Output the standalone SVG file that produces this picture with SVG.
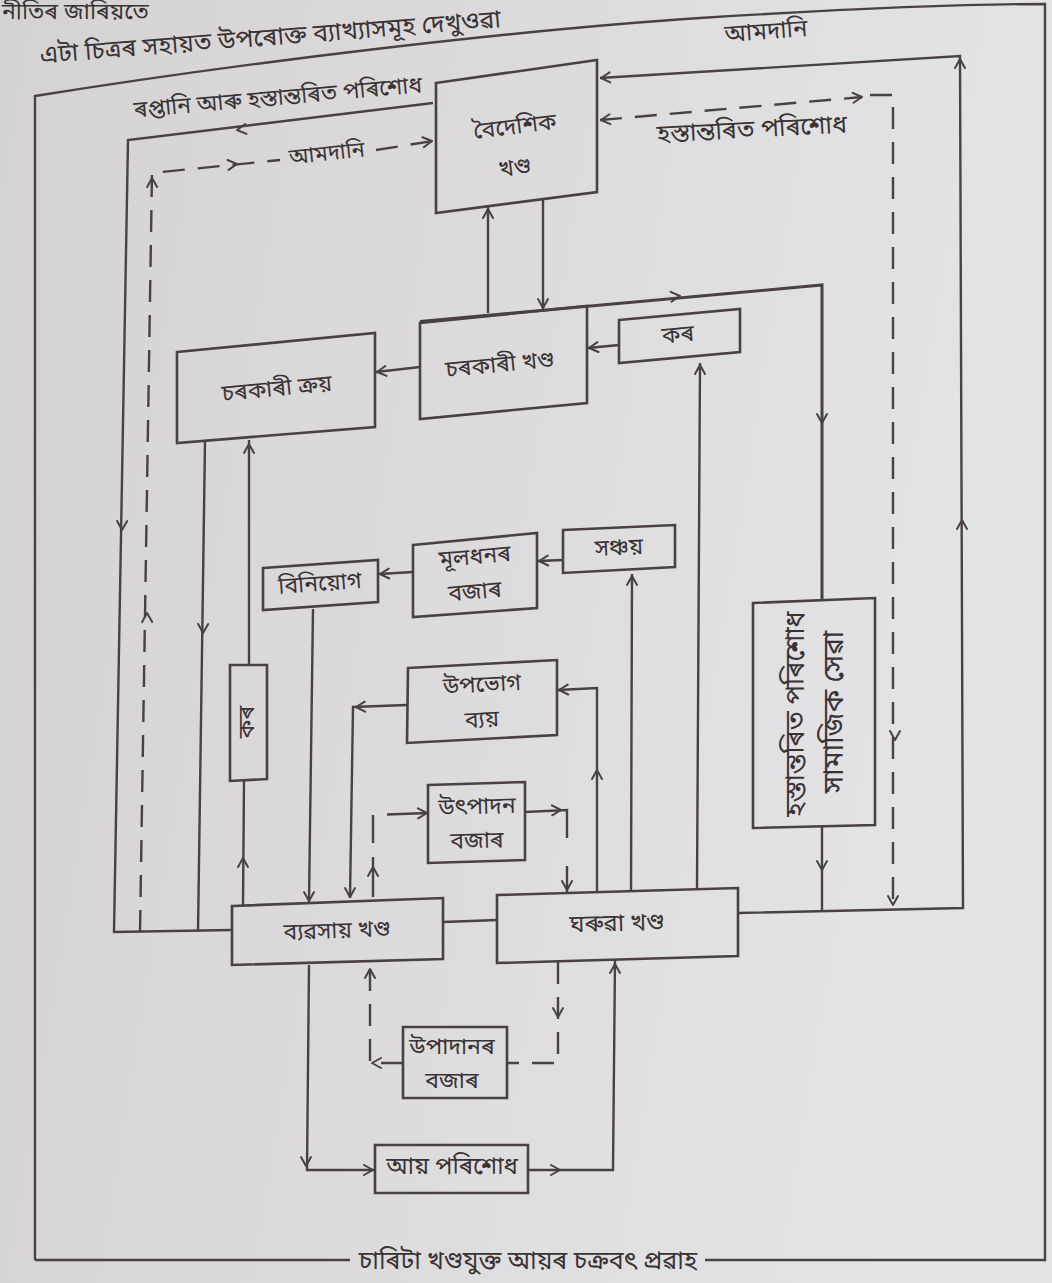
<svg xmlns="http://www.w3.org/2000/svg" xmlns:xlink="http://www.w3.org/1999/xlink" width="1052" height="1283" viewBox="0 0 1052 1283">
<defs>
<linearGradient id="bg" x1="0" y1="0" x2="1" y2="0.2">
<stop offset="0" stop-color="#d5d2d3"/>
<stop offset="1" stop-color="#e4e4e6"/>
</linearGradient>
<path id="ah" d="M-9,-5 L0,0 L-9,5" fill="none" stroke="#4a4142" stroke-width="2" stroke-linecap="round" stroke-linejoin="round"/>
</defs>
<style>
.bx{fill:none;stroke:#4a4142;stroke-width:2.6;stroke-linejoin:miter}
.ln{fill:none;stroke:#4a4142;stroke-width:2.4}
.dl{fill:none;stroke:#4a4142;stroke-width:2.4;stroke-dasharray:22 13}
.t{font-family:'Noto Sans Bengali','Noto Serif Bengali','Lohit Assamese','Lohit Bengali','FreeSans','Noto Sans',sans-serif;fill:#3a3334;text-anchor:middle;dominant-baseline:central;font-size:23px}
.lb{font-size:22px}
.cap{font-size:25px}
</style>
<rect width="1052" height="1283" fill="url(#bg)"/>

<g id="header">
<text class="t" x="2" y="13" style="text-anchor:start">নীতিৰ জাৰিয়তে</text>
<text class="t" x="40" y="57" style="text-anchor:start;font-size:25px" transform="rotate(-4.5 40 57)">এটা চিত্ৰৰ সহায়ত উপৰোক্ত ব্যাখ্যাসমূহ দেখুওৱা</text>
</g>

<g id="frame">
<path class="ln" d="M35,1260 L35,96 C260,60 520,30 700,18 C860,8 980,4 1045,4 L1045,1260 L705,1260 M350,1260 L35,1260"/>
<text class="t cap" x="528" y="1262">চাৰিটা খণ্ডযুক্ত আয়ৰ চক্ৰবৎ প্ৰৱাহ</text>
</g>

<g id="connectors">
<path class="ln" d="M433,103 L128,140 L114,932 L232,930"/>
<path class="dl" d="M140,932 L152,173 L280,160"/>
<path class="dl" d="M376,150 L433,141"/>
<text class="t lb" x="327" y="155" transform="rotate(-6 327 155)">আমদানি</text>
<text class="t lb" x="278" y="99" style="font-size:23px" transform="rotate(-5 278 99)">ৰপ্তানি আৰু হস্তান্তৰিত পৰিশোধ</text>
<path class="ln" d="M205,441 L198,932"/>
<path class="ln" d="M249,665 L249,440"/>
<path class="ln" d="M244,781 L243,906"/>
<path class="ln" d="M313,609 L309,902"/>
<path class="ln" d="M413,572 L379,574"/>
<path class="ln" d="M563,560 L538,561"/>
<path class="ln" d="M631,892 L632,574"/>
<path class="ln" d="M697,888 L700,363"/>
<path class="ln" d="M619,345 L588,348"/>
<path class="ln" d="M420,367 L376,372"/>
<path class="ln" d="M488,313 L488,207"/>
<path class="ln" d="M543,199 L543,310"/>
<path class="ln" d="M420,321.5 L822,285 L822,600" style="stroke-width:3"/>
<path class="ln" d="M822,826 L822,910"/>
<path class="ln" d="M738,913 L963,908 L960,56 L600,78"/>
<path class="dl" d="M600,120 L862,97"/>
<path class="dl" d="M870,95 L893,95 L893,908"/>
<text class="t lb" x="752" y="131" style="font-size:25px" transform="rotate(-3 752 131)">হস্তান্তৰিত পৰিশোধ</text>
<text class="t lb" x="766" y="33" style="font-size:24px" transform="rotate(-4 766 33)">আমদানি</text>
<path class="ln" d="M443,922 L497,920"/>
<path class="ln" d="M407,705 L353,707 L350,898"/>
<path class="ln" d="M597,892 L597,688 L558,690"/>
<path class="dl" d="M373,897 L373,815 L428,813" style="stroke-dasharray:40 14 28 14 60"/>
<path class="dl" d="M525,812 L567,810 L567,893" style="stroke-dasharray:70 28 40"/>
<path class="ln" d="M309,965 L307,1170 L375,1170"/>
<path class="ln" d="M528,1170 L613,1170 L615,960"/>
<path class="dl" d="M558,962 L558,1063 L507,1063"/>
<path class="dl" d="M403,1063 L370,1063 L370,967"/>
<g id="arrowheads">
<use xlink:href="#ah" transform="translate(237,130) rotate(173)"/>
<use xlink:href="#ah" transform="translate(122,530) rotate(91)"/>
<use xlink:href="#ah" transform="translate(147,613) rotate(-91)"/>
<use xlink:href="#ah" transform="translate(152,178) rotate(-91)"/>
<use xlink:href="#ah" transform="translate(237,164) rotate(-6)"/>
<use xlink:href="#ah" transform="translate(432,141) rotate(-8)"/>
<use xlink:href="#ah" transform="translate(203,633) rotate(91)"/>
<use xlink:href="#ah" transform="translate(249,444) rotate(-90)"/>
<use xlink:href="#ah" transform="translate(243,858) rotate(-90)"/>
<use xlink:href="#ah" transform="translate(309,901) rotate(90)"/>
<use xlink:href="#ah" transform="translate(380,574) rotate(177)"/>
<use xlink:href="#ah" transform="translate(539,561) rotate(177)"/>
<use xlink:href="#ah" transform="translate(632,576) rotate(-90)"/>
<use xlink:href="#ah" transform="translate(700,365) rotate(-90)"/>
<use xlink:href="#ah" transform="translate(589,348) rotate(174)"/>
<use xlink:href="#ah" transform="translate(377,372) rotate(173)"/>
<use xlink:href="#ah" transform="translate(488,209) rotate(-90)"/>
<use xlink:href="#ah" transform="translate(543,308) rotate(90)"/>
<use xlink:href="#ah" transform="translate(680,296) rotate(-5)"/>
<use xlink:href="#ah" transform="translate(822,423) rotate(90)"/>
<use xlink:href="#ah" transform="translate(822,870) rotate(90)"/>
<use xlink:href="#ah" transform="translate(962,520) rotate(-90)"/>
<use xlink:href="#ah" transform="translate(960,59) rotate(-90)"/>
<use xlink:href="#ah" transform="translate(601,78) rotate(176)"/>
<use xlink:href="#ah" transform="translate(601,120) rotate(175)"/>
<use xlink:href="#ah" transform="translate(862,97) rotate(-5)"/>
<use xlink:href="#ah" transform="translate(895,740) rotate(90)"/>
<use xlink:href="#ah" transform="translate(893,905) rotate(90)"/>
<use xlink:href="#ah" transform="translate(356,707) rotate(178)"/>
<use xlink:href="#ah" transform="translate(350,897) rotate(90)"/>
<use xlink:href="#ah" transform="translate(597,770) rotate(-90)"/>
<use xlink:href="#ah" transform="translate(559,690) rotate(177)"/>
<use xlink:href="#ah" transform="translate(373,867) rotate(-90)"/>
<use xlink:href="#ah" transform="translate(427,813) rotate(-2)"/>
<use xlink:href="#ah" transform="translate(561,810) rotate(-2)"/>
<use xlink:href="#ah" transform="translate(567,890) rotate(90)"/>
<use xlink:href="#ah" transform="translate(306,1166) rotate(90)"/>
<use xlink:href="#ah" transform="translate(373,1170) rotate(0)"/>
<use xlink:href="#ah" transform="translate(560,1170) rotate(0)"/>
<use xlink:href="#ah" transform="translate(615,964) rotate(-90)"/>
<use xlink:href="#ah" transform="translate(558,1017) rotate(90)"/>
<use xlink:href="#ah" transform="translate(372,1063) rotate(180)"/>
<use xlink:href="#ah" transform="translate(370,969) rotate(-90)"/>
</g>
</g>

<g id="foreign">
<polygon class="bx" points="436,83 597,60 597,192 436,213"/>
<text class="t" x="515" y="128" transform="rotate(-7 515 128)">বৈদেশিক</text>
<text class="t" x="515" y="169" transform="rotate(-7 515 169)">খণ্ড</text>
</g>
<g id="govt">
<polygon class="bx" points="420,323 587,306 587,403 420,419"/>
<text class="t" x="500" y="366" transform="rotate(-5.5 500 366)">চৰকাৰী খণ্ড</text>
</g>
<g id="govtpurchase">
<polygon class="bx" points="177,352 375,333 375,427 177,443"/>
<text class="t" x="277" y="390" transform="rotate(-5.5 277 390)">চৰকাৰী ক্ৰয়</text>
</g>
<g id="taxright">
<polygon class="bx" points="619,320 740,309 740,352 619,363"/>
<text class="t" x="678" y="336" transform="rotate(-5 678 336)">কৰ</text>
</g>
<g id="taxleft">
<polygon class="bx" points="230,665 267,665 267,779 230,781"/>
<text class="t" x="248" y="722" transform="rotate(-90 248 722)">কৰ</text>
</g>
<g id="investment">
<polygon class="bx" points="263,568 378,560 378,602 263,610"/>
<text class="t" x="320" y="585" transform="rotate(-4 320 585)">বিনিয়োগ</text>
</g>
<g id="capitalmarket">
<polygon class="bx" points="413,545 537,533 537,608 413,617"/>
<text class="t" x="475" y="558" transform="rotate(-5 475 558)">মূলধনৰ</text>
<text class="t" x="475" y="593" transform="rotate(-5 475 593)">বজাৰ</text>
</g>
<g id="savings">
<polygon class="bx" points="563,530 675,525 675,567 563,573"/>
<text class="t" x="619" y="549" transform="rotate(-2.5 619 549)">সঞ্চয়</text>
</g>
<g id="consumption">
<polygon class="bx" points="408,668 557,660 557,735 407,743"/>
<text class="t" x="482" y="686" transform="rotate(-3 482 686)">উপভোগ</text>
<text class="t" x="482" y="721" transform="rotate(-3 482 721)">ব্যয়</text>
</g>
<g id="productmarket">
<polygon class="bx" points="428,785 525,782 525,860 428,863"/>
<text class="t" x="477" y="808" transform="rotate(-1.5 477 808)">উৎপাদন</text>
<text class="t" x="477" y="842" transform="rotate(-1.5 477 842)">বজাৰ</text>
</g>
<g id="transferbox">
<polygon class="bx" points="753,603 875,598 875,825 753,828"/>
<text class="t" x="797" y="714" style="font-size:27px" transform="rotate(-90 797 714)">হস্তান্তৰিত পৰিশোধ</text>
<text class="t" x="835" y="712" style="font-size:28px" transform="rotate(-90 835 712)">সামাজিক সেৱা</text>
</g>
<g id="business">
<polygon class="bx" points="232,906 443,898 443,959 232,965"/>
<text class="t" x="337" y="932" transform="rotate(-2 337 932)">ব্যৱসায় খণ্ড</text>
</g>
<g id="household">
<polygon class="bx" points="497,895 738,888 738,956 497,963"/>
<text class="t" x="617" y="925" style="font-size:24px" transform="rotate(-1.5 617 925)">ঘৰুৱা খণ্ড</text>
</g>
<g id="factormarket">
<polygon class="bx" points="403,1027 507,1027 507,1098 403,1098"/>
<text class="t" x="452" y="1048">উপাদানৰ</text>
<text class="t" x="452" y="1082">বজাৰ</text>
</g>
<g id="income">
<polygon class="bx" points="375,1145 528,1145 528,1193 375,1193"/>
<text class="t" x="452" y="1168" style="font-size:24px">আয় পৰিশোধ</text>
</g>
</svg>
